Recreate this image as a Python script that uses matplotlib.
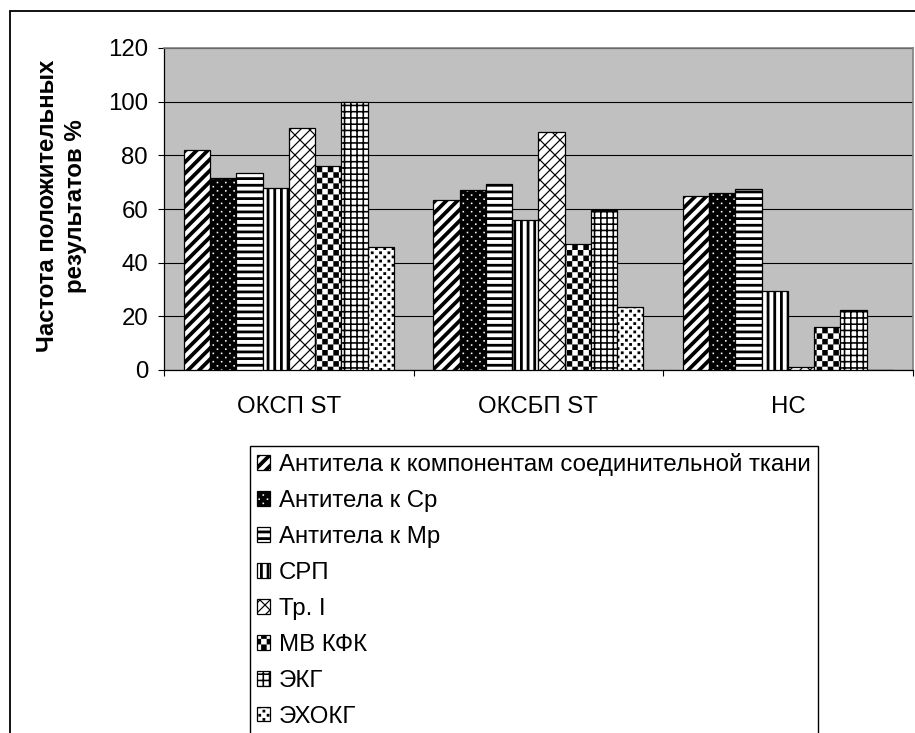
import numpy as np
import matplotlib
matplotlib.use("Agg")
import matplotlib.pyplot as plt
import matplotlib.hatch as mhatch
from matplotlib.path import Path
from matplotlib.patches import Rectangle

# ---------------- data ----------------
categories = ["ОКСП ST", "ОКСБП ST", "НС"]
series_names = [
    "Антитела к компонентам соединительной ткани",
    "Антитела к Ср",
    "Антитела к Мр",
    "СРП",
    "Тр. I",
    "МВ КФК",
    "ЭКГ",
    "ЭХОКГ",
]
antibodies_ct = [82, 63.5, 65]
antibodies_cp = [71.5, 67, 66]
antibodies_mp = [73.5, 69.5, 67.5]
crp = [68, 56, 29.5]
tr_i = [90.3, 88.8, 1]
mb_kfk = [76, 47, 16]
ekg = [100, 59.5, 22.5]
echokg = [46, 23.3, 0]
series_values = [antibodies_ct, antibodies_cp, antibodies_mp, crp,
                 tr_i, mb_kfk, ekg, echokg]
yticks = [0, 20, 40, 60, 80, 100, 120]

# ---------------- custom fill patterns (hatch tiles) ----------------
def rect(x0, y0, x1, y1, ccw=True):
    p = [(x0, y0), (x1, y0), (x1, y1), (x0, y1)]
    return p if ccw else p[::-1]

def seg(p, q, t):
    p = np.asarray(p, float); q = np.asarray(q, float)
    d = q - p
    d = d / np.hypot(*d)
    nrm = np.array([-d[1], d[0]]) * t / 2
    return [tuple(p - nrm), tuple(q - nrm), tuple(q + nrm), tuple(p + nrm)]

def pat_diag():
    n, w = 9, 0.48 / 9
    return [[(k / n, 0), (k / n + w, 0), (k / n + w + 1, 1), (k / n + 1, 1)]
            for k in range(-n - 1, n + 2)]

def pat_white_dots():
    polys = [rect(0, 0, 1, 1)]
    n, d = 12, 0.016
    for j in range(2 * n):
        y = j / (2 * n)
        off = (j % 2) * 0.5 / n
        for i in range(-1, n + 1):
            x = i / n + off
            polys.append(rect(x, y, x + d, y + d, ccw=False))
    return polys

def pat_hlines():
    n, t = 15, 0.42 / 15
    return [rect(0, k / n, 1, k / n + t) for k in range(n)]

def pat_vlines():
    n, t = 15, 0.42 / 15
    return [rect(k / n, 0, k / n + t, 1) for k in range(n)]

def pat_brick():
    n, m, t = 10, 10, 0.012
    polys = []
    for k in range(-n - 2, n + 3):
        polys.append(seg((k / n - 0.2, -0.2), (k / n + 1.2, 1.2), t))
        for j in range(-3, m + 4):
            u = j / m + (k % 2) * 0.5 / m
            a = 0.5 / n
            polys.append(seg((k / n + u, u), (k / n + u + a, u - a), t))
    return polys

def pat_checker():
    c = 1 / 18
    return [rect(i * c, j * c, (i + 1) * c, (j + 1) * c)
            for i in range(18) for j in range(18) if (i + j) % 2 == 0]

def pat_grid():
    n, t = 16, 0.016
    polys = [rect(0, k / n, 1, k / n + t) for k in range(n)]
    polys += [rect(k / n, 0, k / n + t, 1) for k in range(n)]
    return polys

def pat_black_dots():
    polys = []
    n, d = 12, 0.028
    for j in range(2 * n):
        y = j / (2 * n)
        off = (j % 2) * 0.5 / n
        for i in range(-1, n + 1):
            x = i / n + off
            polys.append(rect(x, y, x + d, y + d))
    return polys

PATTERNS = {"/": pat_diag, ".": pat_white_dots, "-": pat_hlines, "|": pat_vlines,
            "x": pat_brick, "*": pat_checker, "+": pat_grid, "o": pat_black_dots}

class TilePattern(mhatch.HatchPatternBase):
    def __init__(self, hatch, density):
        self.polys = []
        for ch, fn in PATTERNS.items():
            if hatch and ch in hatch:
                self.polys += fn()
        self.num_vertices = sum(len(p) + 1 for p in self.polys)

    def set_vertices_and_codes(self, vertices, codes):
        i = 0
        for p in self.polys:
            n = len(p)
            vertices[i:i + n] = p
            vertices[i + n] = p[0]
            codes[i] = Path.MOVETO
            codes[i + 1:i + n] = Path.LINETO
            codes[i + n] = Path.CLOSEPOLY
            i += n + 1

mhatch._hatch_types[:] = [TilePattern]

hatches = ["/", ".", "-", "|", "x", "*", "+", "o"]

# ---------------- figure ----------------
plt.rcParams["font.family"] = ["Liberation Sans", "DejaVu Sans"]
plt.rcParams["hatch.linewidth"] = 0.0
FS = 17.3

fig = plt.figure(figsize=(9.15, 7.33), dpi=100)
ax = fig.add_axes([164 / 915, 1 - 370 / 733, (912.7 - 164) / 915, (370 - 48) / 733])
ax.set_facecolor("#C0C0C0")

nser = len(series_values)
w = 1 / (nser + 1.5)
x = np.arange(len(categories))
handles = []
for i, (vals, name, h) in enumerate(zip(series_values, series_names, hatches)):
    b = ax.bar(x + (i - (nser - 1) / 2) * w, vals, width=w, facecolor="white",
               edgecolor="black", linewidth=0.9, hatch=h, label=name, zorder=3)
    handles.append(b)

ax.set_xlim(-0.5, len(categories) - 0.5)
ax.set_ylim(0, 120)
ax.set_yticks(yticks)
ax.yaxis.grid(True, color="black", linewidth=0.8)
ax.set_axisbelow(True)
for s in ["left", "bottom"]:
    ax.spines[s].set_color("black"); ax.spines[s].set_linewidth(0.9)
for s in ["top", "right"]:
    ax.spines[s].set_color("#808080"); ax.spines[s].set_linewidth(1.2)

ax.set_xticks(x)
ax.set_xticklabels(categories, fontsize=FS)
ax.set_xticks(np.arange(len(categories) + 1) - 0.5, minor=True)
ax.tick_params(axis="x", which="major", length=0, pad=19)
ax.tick_params(axis="x", which="minor", length=4.5, width=0.8, direction="out")
ax.tick_params(axis="y", length=4.5, width=0.8, pad=7, labelsize=FS)

fig.text(61.5 / 915, 1 - 206 / 733, "Частота положительных\nрезультатов %",
         rotation=90, ha="center", va="center", fontsize=17.3, fontweight="bold",
         linespacing=1.3, multialignment="center")

leg = fig.legend(handles=handles, labels=series_names, loc="upper left",
                 bbox_to_anchor=(250 / 915, 1 - 446 / 733),
                 bbox_transform=fig.transFigure, borderaxespad=0,
                 frameon=True, fancybox=False, shadow=False, framealpha=1,
                 edgecolor="black", fontsize=FS, handlelength=0.55,
                 handleheight=0.55, handletextpad=0.35, labelspacing=0.58,
                 borderpad=0.3)
leg.get_frame().set_linewidth(1.0)

fig.patches.append(Rectangle((10 / 915, -0.1), 1.2, 1 - 11 / 733 + 0.1,
                             transform=fig.transFigure, fill=False,
                             linewidth=1.3, edgecolor="black"))

fig.savefig("out.png", dpi=100)
